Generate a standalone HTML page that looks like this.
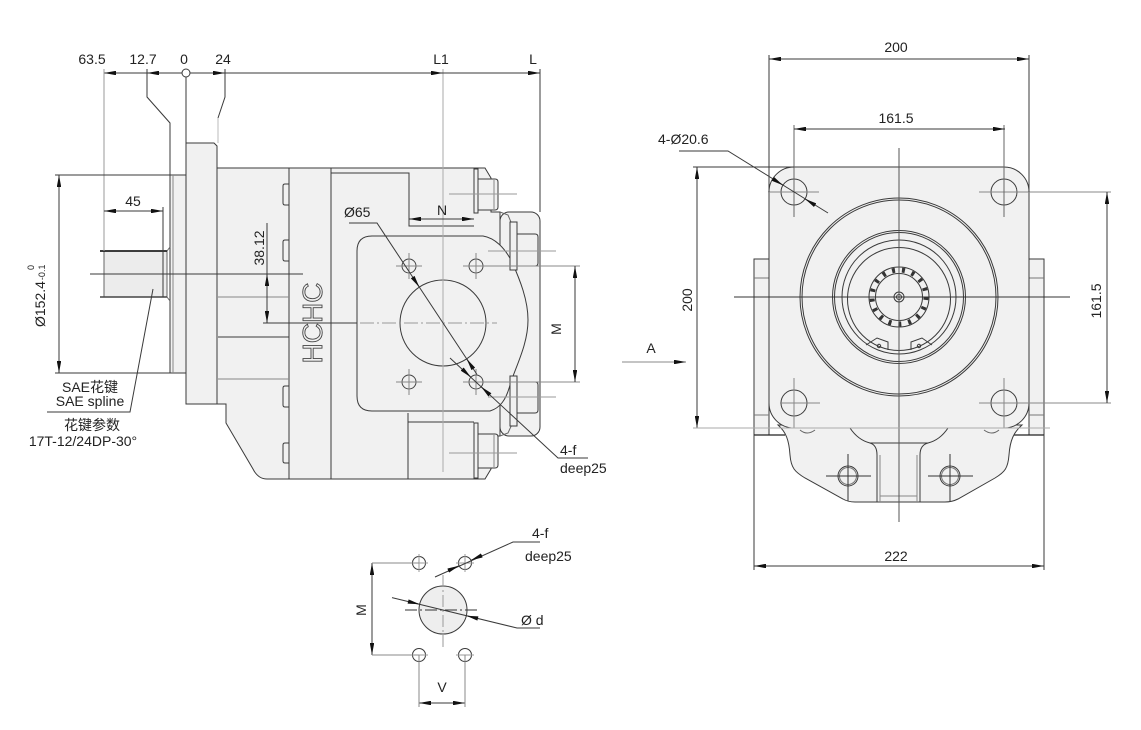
<!DOCTYPE html>
<html><head><meta charset="utf-8"><style>
html,body{margin:0;padding:0;background:#fff;}
svg{display:block;}
text{font-family:"Liberation Sans","Noto Sans CJK SC",sans-serif;font-size:14px;fill:#222;}
</style></head><body>
<svg width="1141" height="730" viewBox="0 0 1141 730" xmlns="http://www.w3.org/2000/svg">
<defs>
<marker id="m" viewBox="0 0 12 4.4" refX="12" refY="2.2" markerWidth="12" markerHeight="4.4" markerUnits="userSpaceOnUse" orient="auto-start-reverse"><path d="M0 0L12 2.2L0 4.4Z" fill="#111"/></marker>
</defs>
<rect width="1141" height="730" fill="#fff"/>

<!-- ============ LEFT VIEW ============ -->
<g fill="none" stroke="#3a3a3a" stroke-width="1">
  <path d="M216 168 H485 L491 178 V212 H500 V436 H491 V469 L485 479 H267 Q258 479 253 469 L226 423 V404 H216 Z" fill="#f1f1f1"/>
  <rect x="500" y="212" width="40" height="224" rx="9" fill="#f1f1f1"/>
  <path d="M500 212 L508 215 L513 227 M500 436 L508 433 L513 422" stroke="#666"/>
  <path d="M186 143 H214 L217 146 V404 H186 Z" fill="#f1f1f1"/>
  <rect x="170" y="175" width="16" height="198" fill="#f1f1f1"/>
  <line x1="173" y1="175" x2="173" y2="373" stroke="#888"/>
  <rect x="104" y="251" width="63" height="46" fill="#ececec" stroke="#666"/>
  <line x1="100" y1="251" x2="167" y2="251" stroke="#222" stroke-width="1.8"/>
  <line x1="100" y1="297" x2="167" y2="297" stroke="#444" stroke-width="1.4"/>
  <path d="M167 251 L170 247 M167 297 L170 301" stroke="#666"/>

  <line x1="289" y1="168" x2="289" y2="479"/>
  <line x1="331" y1="168" x2="331" y2="479"/>
  <path d="M289 184 H285 Q283 184 283 186 V203 Q283 205 285 205 H289"/>
  <path d="M289 240 H285 Q283 240 283 242 V259 Q283 261 285 261 H289"/>
  <path d="M289 386 H285 Q283 386 283 388 V405 Q283 407 285 407 H289"/>
  <path d="M289 443 H285 Q283 443 283 445 V461 Q283 463 285 463 H289"/>
  <line x1="218" y1="297" x2="289" y2="297" stroke="#888"/>
  <line x1="218" y1="337" x2="289" y2="337"/>
  <line x1="218" y1="379" x2="289" y2="379" stroke="#888"/>

  <path d="M331 173 H409 V226 H474"/>
  <path d="M408 479 V413 M408 422 H474"/>

  <path d="M372 236 H483 C495 238 505 248 512 262 C520 280 528 300 528 320 C528 345 515 368 510 385 C506 400 500 408 490 411 H372 Q357 411 357 396 V251 Q357 236 372 236 Z" fill="#f1f1f1"/>

  <rect x="474" y="169" width="4" height="44" fill="#f1f1f1"/>
  <path d="M478 179 H495 Q498 179 498 182 V207 Q498 210 495 210 H478 Z" fill="#f1f1f1"/>
  <line x1="494" y1="180" x2="494" y2="209" stroke="#888"/>
  <rect x="474" y="423" width="4" height="55" fill="#f1f1f1"/>
  <path d="M478 434 H495 Q498 434 498 437 V465 Q498 468 495 468 H478 Z" fill="#f1f1f1"/>
  <line x1="494" y1="435" x2="494" y2="467" stroke="#888"/>
  <rect x="510" y="222" width="7" height="48" fill="#f1f1f1"/>
  <path d="M517 234 H535 Q538 234 538 237 V263 Q538 266 535 266 H517 Z" fill="#f1f1f1"/>
  <rect x="510" y="376" width="7" height="50" fill="#f1f1f1"/>
  <path d="M517 382 H535 Q538 382 538 385 V410 Q538 413 535 413 H517 Z" fill="#f1f1f1"/>

  <g stroke="#999">
    <line x1="449" y1="194" x2="517" y2="194"/>
    <line x1="488" y1="251" x2="556" y2="251"/>
    <line x1="488" y1="397" x2="556" y2="397"/>
    <line x1="449" y1="453" x2="517" y2="453"/>
  </g>

  <g stroke="#444">
    <circle cx="409" cy="266" r="7"/><circle cx="476" cy="266" r="7"/>
    <circle cx="409" cy="382" r="7"/><circle cx="476" cy="382" r="7"/>
  </g>
  <g stroke="#888">
    <path d="M396 266 H422 M409 253 V279 M396 382 H422 M409 369 V395 M463 266 H489 M476 253 V279 M463 382 H489 M476 369 V395"/>
  </g>
  <line x1="476" y1="266" x2="580" y2="266" stroke="#888"/>
  <line x1="476" y1="382" x2="580" y2="382" stroke="#888"/>

  <circle cx="443" cy="323" r="43"/>
  <line x1="263" y1="323" x2="357" y2="323"/>
  <line x1="360" y1="323" x2="497" y2="323" stroke="#999" stroke-dasharray="14 3 2 3"/>
  <line x1="443" y1="69" x2="443" y2="472" stroke="#aaa"/>

  <line x1="90" y1="274" x2="303" y2="274"/>

  <line x1="104" y1="73" x2="540" y2="73" marker-start="url(#m)" marker-end="url(#m)"/>
  <path d="M160 73 H147" marker-end="url(#m)"/>
  <path d="M213 73 H225" marker-end="url(#m)"/>
  <path d="M431 73 H443" marker-end="url(#m)"/>
  <line x1="104" y1="69" x2="104" y2="251" stroke="#999"/>
  <path d="M147 69 V97 L170 123 V175"/>
  <line x1="186" y1="77" x2="186" y2="143"/>
  <circle cx="186" cy="73" r="4" fill="#fff"/>
  <path d="M225 69 V97 L218 118"/>
  <line x1="218" y1="118" x2="218" y2="143" stroke="#bbb"/>
  <line x1="540" y1="69" x2="540" y2="212"/>

  <line x1="104" y1="211" x2="163" y2="211" marker-start="url(#m)" marker-end="url(#m)"/>
  <line x1="163" y1="207" x2="163" y2="297"/>

  <line x1="59" y1="175" x2="59" y2="373" marker-start="url(#m)" marker-end="url(#m)"/>
  <line x1="55" y1="175" x2="170" y2="175"/>
  <line x1="55" y1="373" x2="170" y2="373"/>

  <line x1="267" y1="223" x2="267" y2="323" marker-end="url(#m)"/>
  <path d="M267 287 V274" marker-end="url(#m)"/>

  <line x1="409" y1="219" x2="474" y2="219" marker-start="url(#m)" marker-end="url(#m)"/>

  <line x1="575" y1="266" x2="575" y2="382" marker-start="url(#m)" marker-end="url(#m)"/>

  <path d="M349 223 H377 L477 374.5"/>
  <path d="M412.7 277.1 L419.3 287.1" marker-end="url(#m)"/>
  <path d="M473.3 368.9 L466.7 358.9" marker-end="url(#m)"/>

  <path d="M450 358 L558 458 H588"/>
  <path d="M462.1 369 L470.9 377.2" marker-end="url(#m)"/>
  <path d="M489.9 394.9 L481.1 386.8" marker-end="url(#m)"/>

  <path d="M153 289 L130 412 H47"/>
</g>

<text x="92" y="64" text-anchor="middle">63.5</text>
<text x="143" y="64" text-anchor="middle">12.7</text>
<text x="184" y="64" text-anchor="middle">0</text>
<text x="223" y="64" text-anchor="middle">24</text>
<text x="441" y="64" text-anchor="middle">L1</text>
<text x="533" y="64" text-anchor="middle">L</text>
<text x="133" y="206" text-anchor="middle">45</text>
<text transform="translate(45,327) rotate(-90)">Ø152.4<tspan style="font-size:9px" dx="1">-0.1</tspan></text>
<text transform="translate(34,270) rotate(-90)" style="font-size:9px">0</text>
<text transform="translate(264,248) rotate(-90)" text-anchor="middle">38.12</text>
<text x="344" y="217">Ø65</text>
<text x="442" y="215" text-anchor="middle">N</text>
<text transform="translate(561,329) rotate(-90)" text-anchor="middle">M</text>
<text x="560" y="455">4-f</text>
<text x="560" y="473">deep25</text>
<text transform="translate(322,323) rotate(-90)" text-anchor="middle" style="font-size:28px;fill:none;stroke:#444;stroke-width:0.9">HCHC</text>
<text x="90" y="392" text-anchor="middle">SAE花键</text>
<text x="90" y="406" text-anchor="middle">SAE spline</text>
<text x="92" y="430" text-anchor="middle">花键参数</text>
<text x="83" y="446" text-anchor="middle">17T-12/24DP-30°</text>

<!-- ============ RIGHT VIEW ============ -->
<g fill="none" stroke="#3a3a3a" stroke-width="1">
  <rect x="754" y="259" width="15" height="176" fill="#f1f1f1"/>
  <rect x="1029" y="259" width="15" height="176" fill="#f1f1f1"/>
  <path d="M754 278 H769 M754 415 H769 M1029 278 H1044 M1029 415 H1044" stroke="#777"/>
  <path d="M754 435 H785 M1013 435 H1044" stroke="#222" stroke-width="1.3"/>
  <path d="M778 425 C786 432 789 440 790 455 C791 468 795 472 805 478 L843 499 Q848 502 855 502 H945 Q952 502 958 499 L995 478 C1005 472 1008 468 1009 455 C1010 440 1014 432 1022 425 Z" fill="#f1f1f1"/>
  <path d="M850 428 Q858 440 870 443 H928 Q940 440 948 428"/>
  <path d="M870 443 Q877 445 877 455 V502 M928 443 Q920 445 920 455 V502"/>
  <path d="M880 455 V502 M917 455 V502 M880 496 H917" stroke="#888"/>
  <path d="M800 430 Q807 436 815 430 M984 430 Q992 436 999 430" stroke="#666"/>
  <circle cx="848" cy="476" r="10"/><circle cx="848" cy="476" r="8.5" stroke="#777"/>
  <circle cx="950" cy="476" r="10"/><circle cx="950" cy="476" r="8.5" stroke="#777"/>
  <path d="M826 476 H871 M848 454 V501 M928 476 H973 M950 454 V501" stroke="#333"/>
  <path d="M794 167 H1004 A25 25 0 0 1 1029 192 V403 A25 25 0 0 1 1004 428 H794 A25 25 0 0 1 769 403 V192 A25 25 0 0 1 794 167 Z" fill="#f1f1f1"/>
  <circle cx="794" cy="192" r="13"/><circle cx="1004" cy="192" r="13"/>
  <circle cx="794" cy="403" r="13"/><circle cx="1004" cy="403" r="13"/>
  <g stroke="#888">
    <path d="M768 192 H819 M780 403 H820 M979 192 H1111 M979 403 H1111"/>
    <path d="M794 378 V428 M1004 378 V428"/>
  </g>
  <path d="M794 125 V217 M1004 125 V217" stroke="#666"/>
  <circle cx="899" cy="297" r="99"/>
  <circle cx="899" cy="297" r="97"/>
  <circle cx="899" cy="297" r="66.5"/>
  <circle cx="899" cy="297" r="64.5"/>
  <circle cx="899" cy="297" r="57"/>
  <circle cx="899" cy="299" r="51.5"/>
  <circle cx="899" cy="297" r="30"/>
  <circle cx="899" cy="297" r="23.5"/>
  <circle cx="899" cy="297" r="27" stroke="#333" stroke-width="5" stroke-dasharray="3 7"/>
  <circle cx="899" cy="297" r="5"/>
  <circle cx="899" cy="297" r="2.5"/>
  <path d="M866 345 L877 338 L888 342 V350 M911 350 V342 L922 338 L932 345"/>
  <circle cx="879" cy="346" r="1.7"/><circle cx="919" cy="346" r="1.7"/>
  <line x1="899" y1="148" x2="899" y2="522" stroke="#555"/>
  <line x1="734" y1="297" x2="1070" y2="297" stroke="#333"/>

  <line x1="769" y1="59" x2="1029" y2="59" marker-start="url(#m)" marker-end="url(#m)"/>
  <path d="M769 55 V192 M1029 55 V192"/>
  <line x1="794" y1="129" x2="1005" y2="129" marker-start="url(#m)" marker-end="url(#m)"/>
  <line x1="697" y1="167" x2="697" y2="428" marker-start="url(#m)" marker-end="url(#m)"/>
  <line x1="693" y1="167" x2="794" y2="167"/>
  <line x1="693" y1="428" x2="1050" y2="428" stroke="#aaa"/>
  <line x1="1107" y1="192" x2="1107" y2="403" marker-start="url(#m)" marker-end="url(#m)"/>
  <line x1="754" y1="566" x2="1044" y2="566" marker-start="url(#m)" marker-end="url(#m)"/>
  <path d="M754 435 V570 M1044 435 V570"/>
  <path d="M679 151 H728 L828 213"/>
  <path d="M772.8 178.8 L783 185.2" marker-end="url(#m)"/>
  <path d="M815.2 205.2 L805 198.9" marker-end="url(#m)"/>
  <line x1="622" y1="362" x2="686" y2="362" stroke="#888" marker-end="url(#m)"/>
</g>
<text x="896" y="52" text-anchor="middle">200</text>
<text x="896" y="123" text-anchor="middle">161.5</text>
<text x="658" y="144">4-Ø20.6</text>
<text transform="translate(692,300) rotate(-90)" text-anchor="middle">200</text>
<text transform="translate(1101,301) rotate(-90)" text-anchor="middle">161.5</text>
<text x="651" y="353" text-anchor="middle">A</text>
<text x="896" y="561" text-anchor="middle">222</text>

<!-- ============ SMALL VIEW ============ -->
<g fill="none" stroke="#3a3a3a" stroke-width="1">
  <circle cx="443" cy="610" r="24" fill="#eeeeee"/>
  <line x1="443" y1="575" x2="443" y2="648" stroke="#999" stroke-dasharray="12 3 2 3"/>
  <line x1="405" y1="610" x2="480" y2="610" stroke="#333" stroke-dasharray="12 3 2 3"/>
  <circle cx="419" cy="563" r="6.5"/><circle cx="465" cy="563" r="6.5"/>
  <circle cx="419" cy="655" r="6.5"/><circle cx="465" cy="655" r="6.5"/>
  <g stroke="#999">
    <path d="M410 563 H428 M419 554 V572 M456 563 H474 M465 554 V572 M410 655 H428 M456 655 H474"/>
  </g>
  <line x1="372" y1="563" x2="372" y2="655" marker-start="url(#m)" marker-end="url(#m)"/>
  <path d="M372 563 H419 M372 655 H419" stroke="#888"/>
  <line x1="419" y1="703" x2="465" y2="703" marker-start="url(#m)" marker-end="url(#m)"/>
  <path d="M419 655 V707 M465 655 V707" stroke="#888"/>
  <path d="M435 577 L513 542 H540"/>
  <path d="M448.1 570.6 L459.1 565.7" marker-end="url(#m)"/>
  <path d="M481.9 555.4 L470.9 560.3" marker-end="url(#m)"/>
  <path d="M392 597.6 L517 628 H540"/>
  <path d="M408 601.5 L419.7 604.3" marker-end="url(#m)"/>
  <path d="M478 618.5 L466.3 615.7" marker-end="url(#m)"/>
</g>
<text x="532" y="538">4-f</text>
<text x="525" y="561">deep25</text>
<text x="521" y="625">Ø d</text>
<text transform="translate(366,610) rotate(-90)" text-anchor="middle">M</text>
<text x="442" y="692" text-anchor="middle">V</text>
</svg>
</body></html>
